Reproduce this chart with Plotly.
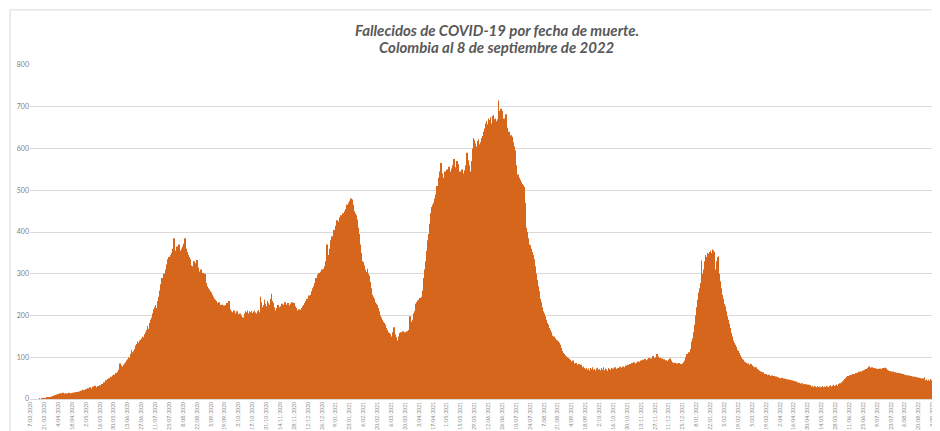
import plotly.graph_objects as go
import pandas as pd

start_date = "2020-03-07"
deaths = [
    0,0,0,0,0,0,0,0,0,1,0,1,1,2,
    1,2,2,3,3,4,5,5,6,7,8,9,9,10,
    12,11,13,14,12,15,13,11,14,12,13,15,12,14,
    13,15,12,16,14,17,15,18,16,20,17,22,19,21,
    24,20,26,22,28,25,23,30,27,32,28,26,31,29,
    33,30,36,34,40,38,45,42,48,50,46,53,51,56,
    58,55,62,60,65,70,85,80,78,76,82,85,88,92,
    95,100,98,108,118,112,115,120,128,132,138,135,140,142,
    145,150,148,155,160,165,175,168,182,190,195,205,215,220,
    225,218,235,245,240,260,275,290,268,300,285,310,322,335,
    340,330,345,350,360,385,348,355,365,345,370,355,350,360,
    365,372,385,360,352,345,340,335,320,305,318,330,325,310,
    333,315,305,300,310,296,302,285,300,278,270,265,262,258,
    255,250,245,240,238,235,230,228,232,225,222,226,220,224,
    218,225,230,222,235,215,210,205,208,212,200,205,210,203,
    198,205,200,196,190,195,205,210,208,212,205,210,208,211,
    206,209,212,207,205,210,213,208,245,232,220,225,238,228,
    222,235,230,226,240,252,235,230,220,190,212,218,225,220,
    215,222,228,218,225,232,220,226,230,215,224,228,232,226,
    230,222,218,212,208,215,210,214,218,222,225,230,235,240,
    238,248,245,250,258,265,270,278,290,285,298,302,295,305,
    310,300,312,318,330,370,345,340,360,380,390,385,405,400,
    415,428,410,425,435,440,430,445,438,450,455,465,460,470,
    475,480,478,465,450,445,420,440,430,410,395,370,350,330,
    328,320,310,305,312,300,295,280,265,250,245,240,232,228,
    225,218,210,200,195,190,185,182,178,170,165,160,158,155,
    150,145,160,172,155,148,140,135,150,158,160,155,162,158,
    160,155,162,158,165,198,185,180,190,205,210,228,232,236,
    238,242,235,245,260,290,310,330,355,380,395,420,445,460,
    465,470,480,490,510,500,530,545,565,540,520,530,545,525,
    550,540,556,530,545,552,560,575,548,555,570,562,540,545,
    535,550,540,530,548,560,590,572,555,560,545,570,600,625,
    620,612,605,618,622,610,615,625,630,640,648,660,665,658,
    672,668,675,660,678,680,670,672,665,670,715,690,680,695,
    690,660,672,665,682,650,635,640,625,632,628,615,605,595,
    560,535,538,530,525,520,515,512,508,470,410,400,385,370,
    368,360,352,345,335,318,300,285,270,258,240,232,220,210,
    205,198,190,182,178,170,165,160,152,148,150,145,142,140,
    138,135,130,122,115,110,108,105,102,100,98,96,94,90,
    88,92,85,84,86,82,80,84,78,82,76,75,78,74,
    72,75,70,73,68,74,71,76,70,72,68,73,75,70,
    72,68,74,70,76,69,73,71,67,74,72,70,75,68,
    73,70,76,72,69,74,71,77,73,75,78,72,76,80,
    78,82,79,84,81,86,83,88,85,82,87,90,86,89,
    92,88,94,90,96,93,91,95,98,92,97,94,103,98,
    96,100,108,102,95,99,94,97,92,95,90,93,88,91,
    94,97,92,88,86,84,87,82,85,83,86,80,84,82,
    85,88,92,100,108,105,112,110,120,138,145,160,178,200,
    220,238,255,265,278,332,300,310,330,345,340,350,348,352,
    355,350,358,356,352,310,330,340,342,300,282,265,250,240,
    228,222,210,198,190,180,170,158,150,140,135,130,125,118,
    115,110,105,100,96,94,90,88,86,84,85,82,80,84,
    80,78,76,74,76,72,70,68,66,65,62,64,60,58,
    60,57,56,58,55,54,56,53,55,52,54,50,52,49,
    50,48,51,47,49,46,48,45,47,44,46,43,45,42,
    43,41,42,40,38,39,37,36,38,35,34,36,33,35,
    32,34,31,33,30,32,29,31,30,28,31,29,30,28,
    29,31,28,30,29,32,30,28,31,33,30,32,34,31,
    33,35,32,36,34,38,36,40,42,45,48,50,53,55,
    54,57,56,58,60,57,59,62,60,63,65,62,66,64,
    68,66,70,72,69,74,78,75,73,76,72,74,71,73,
    70,72,69,73,71,70,74,72,75,73,70,68,66,67,
    65,63,66,62,64,60,63,61,62,59,61,58,60,57,
    58,55,57,54,56,53,55,52,54,51,53,50,52,49,
    51,48,50,47,49,46,52,45,47,44,46,43,48,45,
    42,44,40,38,36,33,
]
label_every = 14
y_ticks = [0, 100, 200, 300, 400, 500, 600, 700, 800]
title_lines = ["Fallecidos de COVID-19 por fecha de muerte.",
               "Colombia al 8 de septiembre de 2022"]

dates = pd.date_range(start_date, periods=len(deaths), freq="D")
cats = [f"{d.day}/{d.month:02d}/{d.year}" for d in dates]
tick_labels = cats[::label_every]

fig = go.Figure(go.Bar(
    x=cats, y=deaths,
    marker=dict(color="#D5661C", line=dict(width=0)),
))

title_font = dict(family="Lato, Open Sans, sans-serif", size=15, color="#595959")
fig.update_layout(
    width=940, height=431,
    margin=dict(l=22, r=10, t=57, b=40, autoexpand=False),
    paper_bgcolor="white", plot_bgcolor="white",
    bargap=0.25,
    showlegend=False,
    annotations=[
        dict(text=f"<b><i>{title_lines[0]}</i></b>", xref="paper", yref="paper",
             x=0.514, y=1.105, xanchor="center", yanchor="middle", showarrow=False, font=title_font),
        dict(text=f"<b><i>{title_lines[1]}</i></b>", xref="paper", yref="paper",
             x=0.514, y=1.054, xanchor="center", yanchor="middle", showarrow=False, font=title_font),
    ],
    xaxis=dict(
        type="category", automargin=False,
        tickmode="array", tickvals=tick_labels, ticktext=tick_labels,
        tickangle=-90, tickfont=dict(size=5, color="#7F7F7F", family="Lato, sans-serif"),
        showgrid=False, showline=True, linecolor="#D9D9D9", ticks="",
        range=[-0.5, len(deaths) - 0.5],
    ),
    yaxis=dict(
        range=[0, 800], tickvals=y_ticks, automargin=False,
        tickfont=dict(size=7, color="#7F7F7F", family="Lato, sans-serif"),
        showgrid=True, gridcolor="#D9D9D9", gridwidth=1,
        zeroline=False, ticks="", ticklen=0,
    ),
    shapes=[dict(type="rect", xref="paper", yref="paper",
                 x0=-0.022, x1=1.05, y0=-0.2, y1=1.165,
                 line=dict(color="#D9D9D9", width=1), fillcolor="rgba(0,0,0,0)", layer="below")],
)

fig.write_html("out.html")
